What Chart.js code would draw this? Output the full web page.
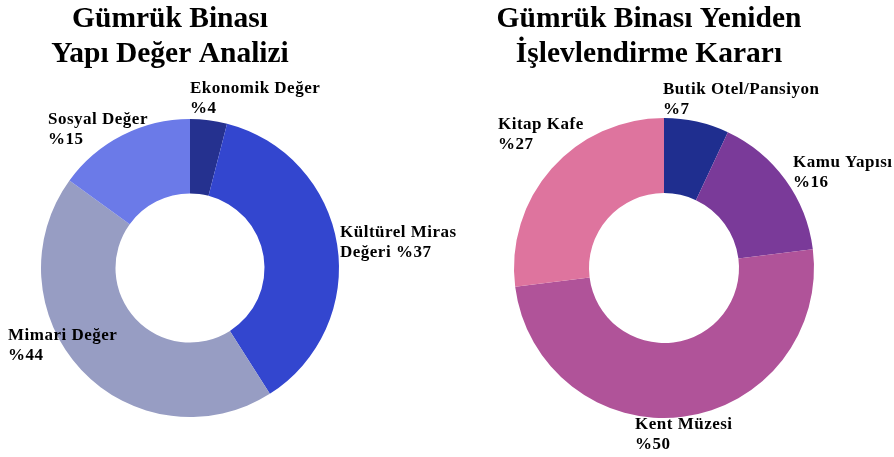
<!DOCTYPE html>
<html>
<head>
<meta charset="utf-8">
<script src="https://cdn.jsdelivr.net/npm/chart.js@4"></script>
<style>
  html, body { margin: 0; padding: 0; background: #ffffff; }
  #wrap { position: relative; width: 894px; height: 457px; }
  canvas { position: absolute; left: 0; top: 0; }
</style>
</head>
<body>
<div id="wrap">
  <canvas id="c1" width="894" height="457"></canvas>
  <canvas id="c2" width="894" height="457"></canvas>
</div>
<script>
// ---- data ----
const leftTitle = ['Gümrük Binası', 'Yapı Değer Analizi'];
const leftCategories = ['Ekonomik Değer', 'Kültürel Miras Değeri', 'Mimari Değer', 'Sosyal Değer'];
const leftValues = [4, 37, 44, 15];

const rightTitle = ['Gümrük Binası Yeniden', 'İşlevlendirme Kararı'];
const rightCategories = ['Butik Otel/Pansiyon', 'Kamu Yapısı', 'Kent Müzesi', 'Kitap Kafe'];
const rightValues = [7, 16, 50, 27];

// ---- styles / layout ----
const leftColors = ['#25318F', '#3346CF', '#979DC3', '#6B7AE8'];
const rightColors = ['#1F2E8F', '#7A3A99', '#B05399', '#DE749E'];
const FONT = '"Liberation Serif", "Times New Roman", serif';

// label offsets (left x, first-line baseline) relative to doughnut centre
const leftLabelOffsets = [[0, -175], [150, -31], [-182, 72], [-142, -144]];
const rightLabelOffsets = [[-1, -174], [129, -101], [-29, 161], [-166, -139]];

function labelLines(cat, val) {
  const words = cat.split(' ');
  if (words.length >= 3) {
    return [words.slice(0, words.length - 1).join(' '), words[words.length - 1] + ' %' + val];
  }
  return [cat, '%' + val];
}

const annotatePlugin = {
  id: 'annotate',
  afterDatasetsDraw(chart, args, opts) {
    const ctx = chart.ctx;
    const meta = chart.getDatasetMeta(0);
    const arc0 = meta.data[0];
    const cx = arc0.x, cy = arc0.y;
    ctx.save();
    ctx.fillStyle = '#000000';
    // title
    ctx.font = 'bold 29.5px ' + FONT;
    ctx.textAlign = 'center';
    ctx.textBaseline = 'alphabetic';
    opts.title.forEach((t, i) => ctx.fillText(t, opts.titleX, 27 + i * 35));
    // slice labels
    ctx.font = 'bold 17px ' + FONT;
    if ('letterSpacing' in ctx) ctx.letterSpacing = '0.5px';
    ctx.textAlign = 'left';
    const labels = chart.data.labels;
    const values = chart.data.datasets[0].data;
    labels.forEach((lab, i) => {
      const [dx, dy] = opts.offsets[i];
      const lines = labelLines(lab, values[i]);
      lines.forEach((ln, j) => ctx.fillText(ln, cx + dx, cy + dy + j * 20));
    });
    ctx.restore();
  }
};

function makeChart(id, cats, vals, colors, padding, title, titleX, offsets) {
  return new Chart(document.getElementById(id), {
    type: 'doughnut',
    data: {
      labels: cats,
      datasets: [{
        data: vals,
        backgroundColor: colors,
        borderWidth: 0,
        hoverOffset: 0,
        offset: 0
      }]
    },
    options: {
      responsive: false,
      animation: false,
      events: [],
      cutout: '50%',
      layout: { padding: padding },
      plugins: {
        legend: { display: false },
        tooltip: { enabled: false },
        title: { display: false },
        annotate: { title: title, titleX: titleX, offsets: offsets }
      }
    },
    plugins: [annotatePlugin]
  });
}

makeChart('c1', leftCategories, leftValues, leftColors,
  { left: 41, right: 555, top: 119, bottom: 40 }, leftTitle, 170, leftLabelOffsets);
makeChart('c2', rightCategories, rightValues, rightColors,
  { left: 514, right: 80, top: 118, bottom: 39 }, rightTitle, 649, rightLabelOffsets);
</script>
</body>
</html>
